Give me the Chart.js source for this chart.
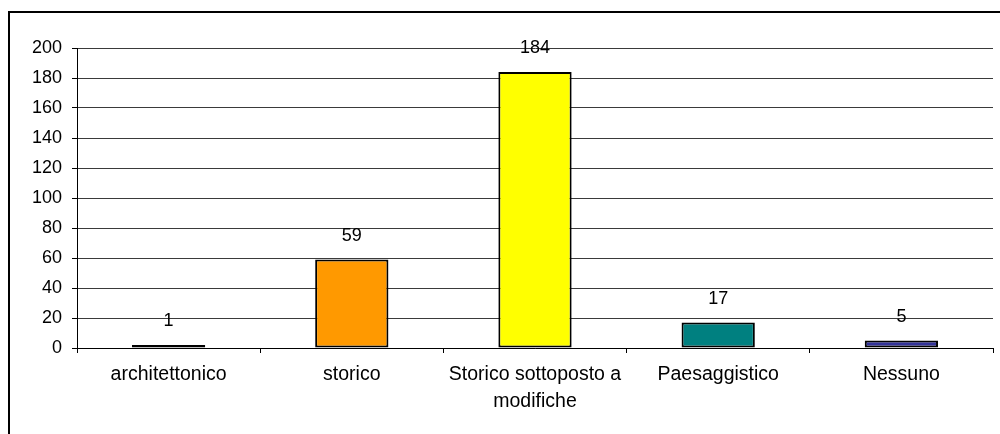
<!DOCTYPE html>
<html>
<head>
<meta charset="utf-8">
<script src="https://cdn.jsdelivr.net/npm/chart.js@4.4.1/dist/chart.umd.min.js"></script>
<style>
  html, body { margin: 0; padding: 0; background: #fff; overflow: hidden; }
  canvas { display: block; }
</style>
</head>
<body>
<canvas id="myChart" width="1000" height="434"></canvas>
<script>
const categories = ['architettonico', 'storico', ['Storico sottoposto a', 'modifiche'], 'Paesaggistico', 'Nessuno']
const values = [1, 59, 184, 17, 5]
const barColors = ['#000000', '#FF9900', '#FFFF00', '#008080', '#333399']
const yTicks = [0, 20, 40, 60, 80, 100, 120, 140, 160, 180, 200]

const fontFamily = '"Liberation Sans", Arial, sans-serif'

// outer frame like the original picture
const framePlugin = {
  id: 'frame',
  beforeDraw(chart) {
    const ctx = chart.ctx
    ctx.save()
    ctx.fillStyle = '#fff'
    ctx.fillRect(0, 0, chart.width, chart.height)
    ctx.strokeStyle = '#000'
    ctx.lineWidth = 2
    ctx.strokeRect(9, 12, 1100, 600)
    ctx.restore()
  }
}

// numbers above bars
const valueLabels = {
  id: 'valueLabels',
  afterDatasetsDraw(chart) {
    const ctx = chart.ctx
    const meta = chart.getDatasetMeta(0)
    ctx.save()
    ctx.font = '18px ' + fontFamily
    ctx.fillStyle = '#000'
    ctx.textAlign = 'center'
    ctx.textBaseline = 'middle'
    meta.data.forEach((bar, i) => {
      ctx.fillText(String(values[i]), bar.x, bar.y - 23.5)
    })
    ctx.restore()
  }
}

const aChart = document.getElementById('myChart').getContext('2d')

const myChart = new Chart(aChart, {
  type: 'bar',
  data: {
    labels: categories,
    datasets: [{
      data: values,
      backgroundColor: barColors,
      borderColor: '#000',
      borderWidth: 2,
      borderSkipped: false,
      minBarLength: 3,
      barPercentage: 0.4,
      categoryPercentage: 1
    }]
  },
  options: {
    responsive: false,
    animation: false,
    layout: { padding: { top: 48, right: 7, left: 0, bottom: 0 } },
    plugins: {
      legend: { display: false },
      tooltip: { enabled: false }
    },
    scales: {
      x: {
        offset: true,
        grid: {
          offset: true,
          drawOnChartArea: false,
          drawTicks: true,
          tickLength: 5,
          tickColor: '#000'
        },
        border: { color: '#000', width: 1 },
        ticks: {
          color: '#000',
          padding: 8,
          maxRotation: 0,
          autoSkip: false,
          font: { family: fontFamily, size: 19.5, lineHeight: 1.4 }
        },
        afterFit(scale) { scale.height = 86 }
      },
      y: {
        min: 0,
        max: 200,
        afterBuildTicks(scale) { scale.ticks = yTicks.map(v => ({ value: v })) },
        grid: {
          color: '#3a3a3a',
          lineWidth: 1,
          tickLength: 5,
          tickColor: '#000'
        },
        border: { color: '#000', width: 1 },
        ticks: {
          color: '#000',
          padding: 10,
          font: { family: fontFamily, size: 18 }
        },
        afterFit(scale) { scale.width = 77 }
      }
    }
  },
  plugins: [framePlugin, valueLabels]
});
</script>
</body>
</html>
